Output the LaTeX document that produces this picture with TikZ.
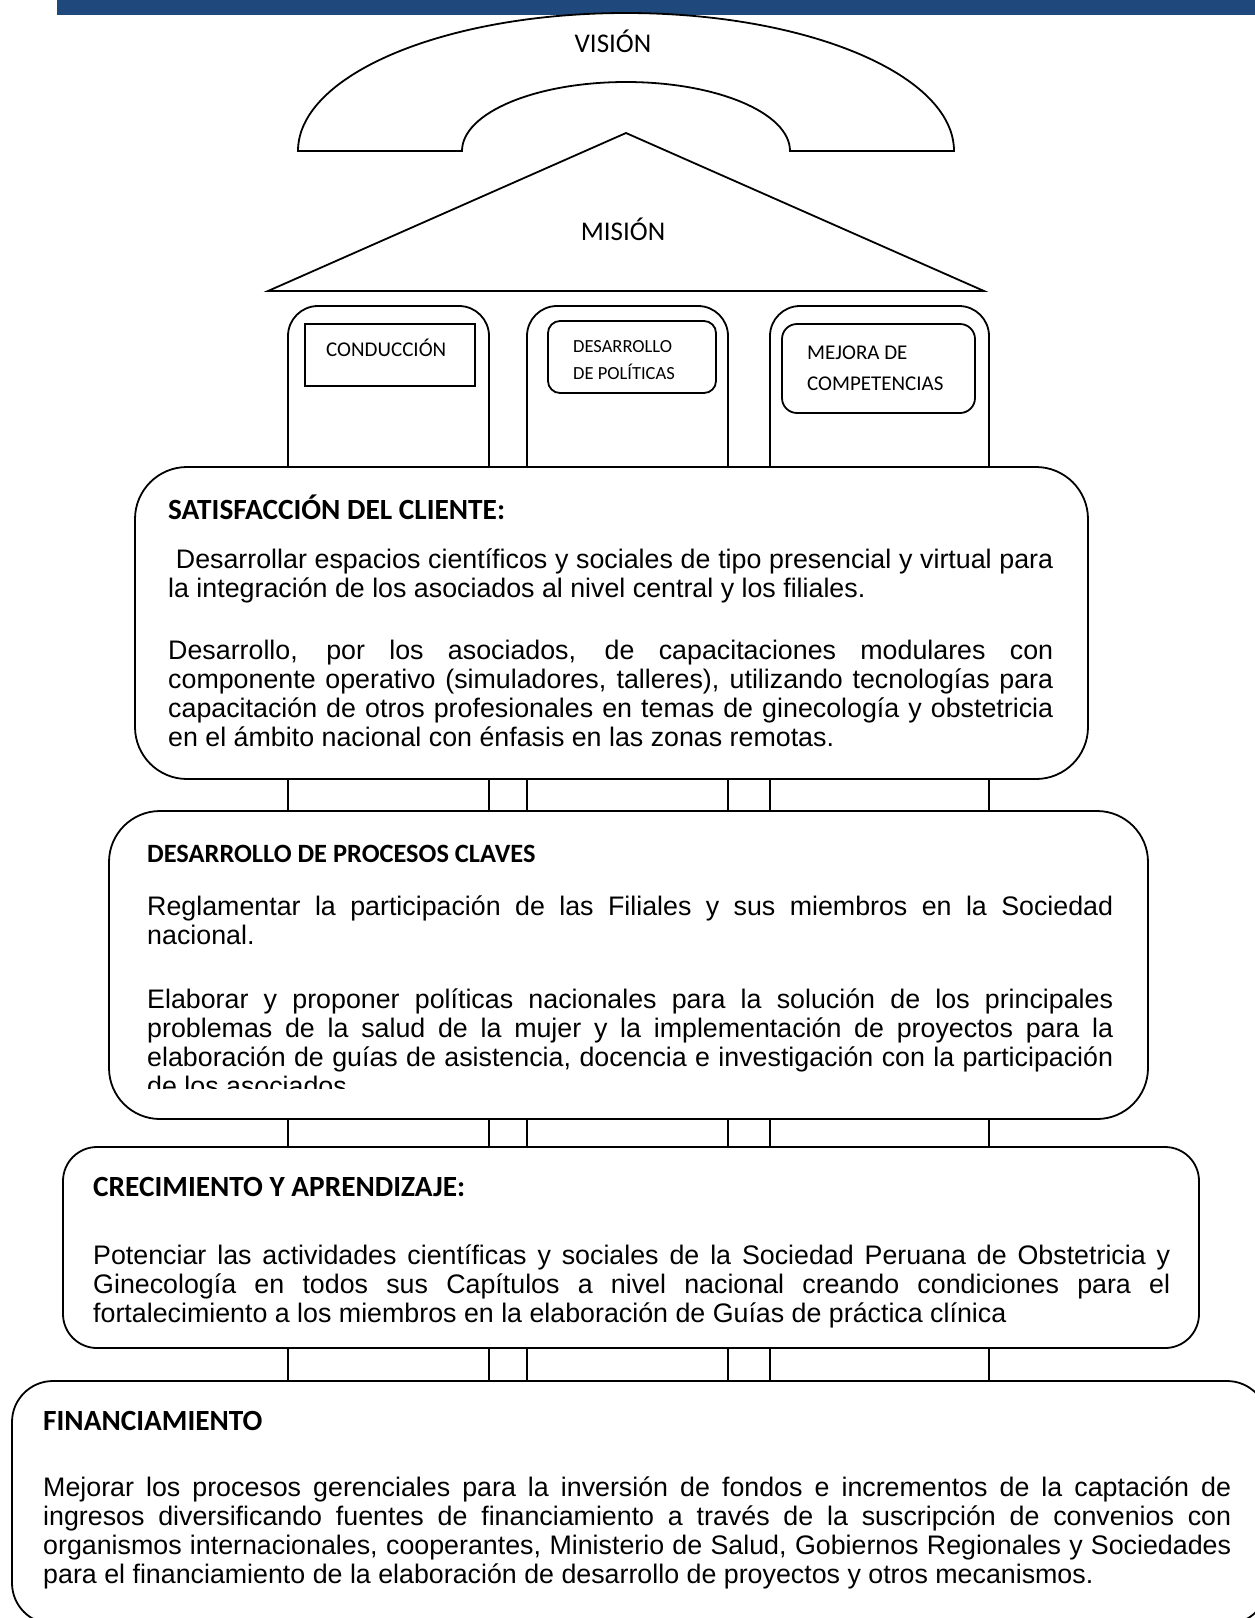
\documentclass[tikz,border=0pt]{standalone}
\usepackage{fontspec}
\setmainfont{Liberation Sans}
\newfontfamily\calib{Carlito}
\definecolor{barblue}{RGB}{31,73,125}
\tikzset{
  outl/.style={draw=black, line width=1.8pt},
  panel/.style={draw=black, line width=1.8pt, fill=white},
  body/.style={anchor=base west, inner sep=0pt, align=justify, font=\fontsize{26.8}{29.3}\selectfont},
  head/.style={anchor=base west, inner sep=0pt, font=\calib\bfseries\fontsize{29.3}{32}\selectfont},
  headsm/.style={anchor=base west, inner sep=0pt, font=\calib\bfseries\fontsize{26.4}{30}\selectfont},
  plbl/.style={anchor=base west, inner sep=0pt, font=\calib\fontsize{21}{25}\selectfont},
  plblsm/.style={anchor=base west, inner sep=0pt, font=\calib\fontsize{18.5}{22}\selectfont},
  big/.style={anchor=base, inner sep=0pt, font=\calib\fontsize{27}{30}\selectfont},
}
\begin{document}
\begin{tikzpicture}[x=1pt,y=-1pt]
\clip (0,0) rectangle (1255,1618);
\fill[white] (0,0) rectangle (1255,1618);
% top bar
\fill[barblue] (57,0) rectangle (1255,15);
% vision arch
\draw[outl, fill=white] (298,151) arc[start angle=180, end angle=360, x radius=328, y radius=138]
  -- (790,151) arc[start angle=0, end angle=-180, x radius=164, y radius=69] -- cycle;
\node[big] (vision) at (613,52) {VISIÓN};
% mission triangle
\draw[outl, fill=white] (626,133) -- (984,291) -- (268,291) -- cycle;
\node[big] (mision) at (623,240) {MISIÓN};
% pillars
\draw[outl, rounded corners=30pt] (288,1381) -- (288,306) -- (489,306) -- (489,1381);
\draw[outl, rounded corners=30pt] (527,1381) -- (527,306) -- (728,306) -- (728,1381);
\draw[outl, rounded corners=30pt] (770,1381) -- (770,306) -- (989,306) -- (989,1381);
% pillar labels
\draw[outl] (305,324) rectangle (475,386);
\node[plbl] (cond) at (326,356) {CONDUCCIÓN};
\draw[outl, rounded corners=12pt] (548,321) rectangle (716,393);
\node[plblsm] (desp1) at (573,352) {DESARROLLO};
\node[plblsm] (desp2) at (573,379) {DE POLÍTICAS};
\draw[outl, rounded corners=15pt] (782,324) rectangle (975,413);
\node[plbl] (mej1) at (807,359) {MEJORA DE};
\node[plbl] (mej2) at (807,390) {COMPETENCIAS};
% SATISFACCION
\draw[panel, rounded corners=52pt] (135,467) rectangle (1088,779);
\node[head] (sath) at (168,519) {SATISFACCIÓN DEL CLIENTE:};
\node[body, text width=885pt] (satp1) at (168,568) {\ Desarrollar espacios científicos y sociales de tipo presencial y virtual para\linebreak la integración de los asociados al nivel central y los filiales.};
\node[body, text width=885pt] (satp2) at (168,659) {Desarrollo, por los asociados, de capacitaciones modulares con\linebreak componente operativo (simuladores, talleres), utilizando tecnologías para\linebreak capacitación de otros profesionales en temas de ginecología y obstetricia\linebreak en el ámbito nacional con énfasis en las zonas remotas.};
% DESARROLLO DE PROCESOS
\draw[panel, rounded corners=51pt] (109,811) rectangle (1148,1119);
\node[headsm] (desh) at (147,862) {DESARROLLO DE PROCESOS CLAVES};
\node[body, text width=966pt] (desp1b) at (147,915) {Reglamentar la participación de las Filiales y sus miembros en la Sociedad\linebreak nacional.};
\begin{scope}
\clip (100,980) rectangle (1160,1088);
\node[body, text width=966pt] (desp2b) at (147,1008) {Elaborar y proponer políticas nacionales para la solución de los principales\linebreak problemas de la salud de la mujer y la implementación de proyectos para la\linebreak elaboración de guías de asistencia, docencia e investigación con la participación\linebreak de los asociados};
\end{scope}
% CRECIMIENTO
\draw[panel, rounded corners=34pt] (63,1147) rectangle (1199,1348);
\node[head] (creh) at (93,1196) {CRECIMIENTO Y APRENDIZAJE:};
\node[body, text width=1077pt] (crep) at (93,1264) {Potenciar las actividades científicas y sociales de la Sociedad Peruana de Obstetricia y\linebreak Ginecología en todos sus Capítulos a nivel nacional creando condiciones para el\linebreak fortalecimiento a los miembros en la elaboración de Guías de práctica clínica};
% FINANCIAMIENTO
\draw[panel, rounded corners=41pt] (12,1381) rectangle (1268,1624);
\node[head] (finh) at (43,1430) {FINANCIAMIENTO};
\node[body, text width=1188pt] (finp) at (43,1496) {Mejorar los procesos gerenciales para la inversión de fondos e incrementos de la captación de\linebreak ingresos diversificando fuentes de financiamiento a través de la suscripción de convenios con\linebreak organismos internacionales, cooperantes, Ministerio de Salud, Gobiernos Regionales y Sociedades\linebreak para el financiamiento de la elaboración de desarrollo de proyectos y otros mecanismos.};
\end{tikzpicture}
\end{document}
